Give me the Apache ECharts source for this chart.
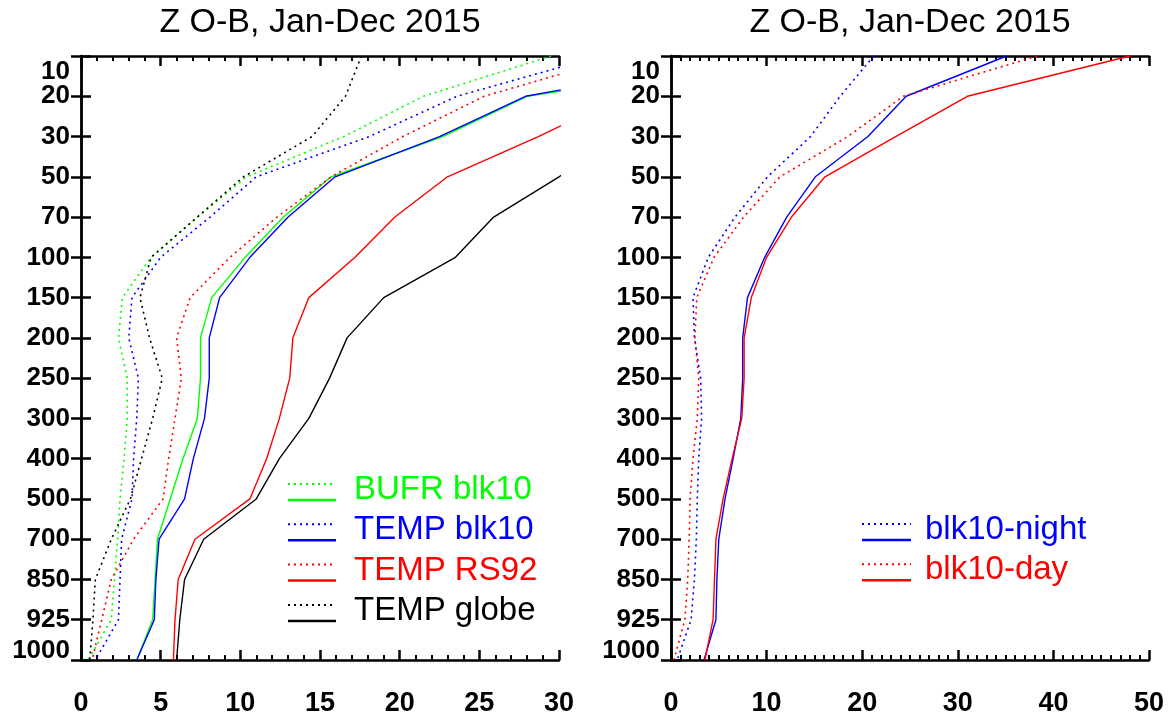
<!DOCTYPE html>
<html>
<head>
<meta charset="utf-8">
<script src="https://cdn.jsdelivr.net/npm/echarts@6/dist/echarts.min.js"></script>
<style>
  html, body { margin: 0; padding: 0; background: #fff; }
  #main { width: 1170px; height: 717px; }
</style>
</head>
<body>
<div id="main"></div>
<script>
// pressure levels (hPa), top to bottom
const levels = ['10', '20', '30', '50', '70', '100', '150', '200', '250', '300', '400', '500', '700', '850', '925', '1000'];

// left panel
const bufrDotted = [29.5, 21.5, 16.5, 10.4, 7.3, 4.4, 2.6, 2.35, 2.9, 2.9, 2.7, 2.45, 2.3, 2.1, 1.9, 0.45];
const bufrSolid = [44, 28.0, 22.7, 15.7, 12.7, 10.3, 8.2, 7.5, 7.5, 7.3, 6.4, 5.6, 4.8, 4.65, 4.5, 3.5];
const tempDotted = [32.6, 23.6, 18.1, 11.0, 8.1, 5.0, 3.2, 3.0, 3.6, 3.5, 3.3, 3.2, 2.55, 2.45, 2.35, 0.9];
const tempSolid = [42, 27.9, 22.5, 15.95, 13.0, 10.6, 8.7, 8.05, 8.05, 7.75, 7.05, 6.5, 4.9, 4.7, 4.6, 3.5];
const rs92Dotted = [34, 25.3, 20.2, 15.7, 12.3, 9.35, 6.85, 6.0, 6.3, 5.9, 5.5, 5.15, 3.3, 1.9, 1.3, 0.7];
const rs92Solid = [40, 34, 28.7, 23.0, 19.7, 17.2, 14.3, 13.3, 13.1, 12.45, 11.65, 10.6, 7.15, 6.1, 5.9, 5.8];
const globeDotted = [17.6, 16.6, 14.5, 10.2, 7.3, 4.4, 3.7, 4.3, 5.1, 4.5, 3.8, 3.1, 1.9, 0.9, 0.75, 0.55];
const globeSolid = [45, 40, 34, 30.0, 25.9, 23.5, 19.0, 16.7, 15.6, 14.3, 12.45, 11.0, 7.7, 6.5, 6.2, 6.0];

// right panel
const nightDotted = [21.2, 17.7, 14.6, 10.1, 6.7, 3.9, 2.3, 2.45, 3.1, 3.2, 2.9, 2.75, 2.65, 2.45, 2.1, 0.65];
const nightSolid = [35.1, 24.6, 20.6, 15.1, 12.1, 9.8, 8.0, 7.5, 7.5, 7.3, 6.5, 5.65, 5.0, 4.8, 4.7, 3.45];
const dayDotted = [38.3, 24.3, 18.5, 11.4, 7.6, 4.5, 2.7, 2.5, 2.9, 2.75, 2.3, 2.0, 1.9, 1.75, 1.45, 0.3];
const daySolid = [48.0, 31.0, 23.5, 16.1, 12.6, 10.0, 8.4, 7.65, 7.65, 7.4, 6.4, 5.45, 4.7, 4.55, 4.4, 3.55];

const titleText = 'Z O-B, Jan-Dec 2015';
const leftLegend = [
  { name: 'BUFR blk10', color: '#00ff00' },
  { name: 'TEMP blk10', color: '#0000ff' },
  { name: 'TEMP RS92', color: '#ff0000' },
  { name: 'TEMP globe', color: '#000000' }
];
const rightLegend = [
  { name: 'blk10-night', color: '#0000ff' },
  { name: 'blk10-day', color: '#ff0000' }
];

const FONT = '"Liberation Sans", Arial, Helvetica, sans-serif';
const DOT = [2, 4];

let chartDom = document.getElementById('main');
let myChart = echarts.init(chartDom);
let option;

function xAxisCfg(grid, max, interval, minorSplit, pos) {
  return {
    gridIndex: grid,
    type: 'value',
    min: 0,
    max: max,
    interval: interval,
    position: pos,
    axisLine: { show: true, onZero: false, lineStyle: { color: '#000', width: 2.5 } },
    axisTick: { show: true, inside: true, length: 10, lineStyle: { color: '#000', width: 2.5 } },
    minorTick: { show: true, splitNumber: minorSplit, length: 5, lineStyle: { color: '#000', width: 2 } },
    splitLine: { show: false },
    axisLabel: {
      show: pos === 'bottom',
      margin: 30,
      color: '#000',
      fontFamily: FONT,
      fontWeight: 'bold',
      fontSize: 27
    }
  };
}

function yAxisCfg(grid, pos) {
  return {
    gridIndex: grid,
    type: 'category',
    data: levels,
    inverse: true,
    boundaryGap: false,
    position: pos,
    axisLine: { show: true, lineStyle: { color: '#000', width: 2.5 } },
    axisTick: { show: true, inside: true, length: 10, interval: 0, lineStyle: { color: '#000', width: 2.5 } },
    splitLine: { show: false },
    axisLabel: {
      show: pos === 'left',
      interval: 0,
      margin: 11,
      color: '#000',
      fontFamily: FONT,
      fontWeight: 'bold',
      fontSize: 26,
      formatter: function (v) {
        if (v === '10') return '{top|' + v + '}';
        if (v === '1000') return '{bot|' + v + '}';
        return v;
      },
      rich: {
        top: { fontFamily: FONT, fontWeight: 'bold', fontSize: 26, color: '#000', padding: [32, 0, 0, 0] },
        bot: { fontFamily: FONT, fontWeight: 'bold', fontSize: 26, color: '#000', padding: [0, 0, 18, 0] }
      }
    }
  };
}

function lineSeries(vals, color, dotted, xi, yi) {
  return {
    type: 'line',
    xAxisIndex: xi,
    yAxisIndex: yi,
    data: vals.map((v, i) => [v, levels[i]]),
    symbol: 'none',
    clip: true,
    lineStyle: { color: color, width: dotted ? 1.6 : 1.4, type: dotted ? DOT : 'solid' },
    z: 3
  };
}

function legendGraphics(items, x1, x2, tx, y0) {
  let g = [];
  items.forEach((it, i) => {
    const y = y0 + i * 40.3;
    g.push({ type: 'line', shape: { x1: x1, y1: y - 6, x2: x2, y2: y - 6 }, style: { stroke: it.color, lineWidth: 2, lineDash: DOT } });
    g.push({ type: 'line', shape: { x1: x1, y1: y + 10, x2: x2, y2: y + 10 }, style: { stroke: it.color, lineWidth: 2.5 } });
    g.push({
      type: 'text', x: tx, y: y,
      style: { text: it.name, fill: it.color, font: '33px ' + FONT, textAlign: 'left', textVerticalAlign: 'middle' }
    });
  });
  return g;
}

option = {
  animation: false,
  backgroundColor: '#fff',
  grid: [
    { left: 81, top: 56, width: 478, height: 606 },
    { left: 671, top: 56, width: 478, height: 606 }
  ],
  xAxis: [
    xAxisCfg(0, 30, 5, 5, 'bottom'),
    xAxisCfg(0, 30, 5, 5, 'top'),
    xAxisCfg(1, 50, 10, 10, 'bottom'),
    xAxisCfg(1, 50, 10, 10, 'top')
  ],
  yAxis: [
    yAxisCfg(0, 'left'),
    yAxisCfg(0, 'right'),
    yAxisCfg(1, 'left'),
    yAxisCfg(1, 'right')
  ],
  graphic: [
    { type: 'text', x: 320, y: 23, style: { text: titleText, fill: '#000', font: '34px ' + FONT, textAlign: 'center', textVerticalAlign: 'middle' } },
    { type: 'text', x: 910, y: 23, style: { text: titleText, fill: '#000', font: '34px ' + FONT, textAlign: 'center', textVerticalAlign: 'middle' } }
  ]
    .concat(legendGraphics(leftLegend, 288, 336, 354, 490))
    .concat(legendGraphics(rightLegend, 862, 911, 925, 530)),
  series: [
    lineSeries(bufrDotted, '#00ff00', true, 0, 0),
    lineSeries(bufrSolid, '#00ff00', false, 0, 0),
    lineSeries(tempDotted, '#0000ff', true, 0, 0),
    lineSeries(tempSolid, '#0000ff', false, 0, 0),
    lineSeries(rs92Dotted, '#ff0000', true, 0, 0),
    lineSeries(rs92Solid, '#ff0000', false, 0, 0),
    lineSeries(globeDotted, '#000000', true, 0, 0),
    lineSeries(globeSolid, '#000000', false, 0, 0),
    lineSeries(nightDotted, '#0000ff', true, 2, 2),
    lineSeries(nightSolid, '#0000ff', false, 2, 2),
    lineSeries(dayDotted, '#ff0000', true, 2, 2),
    lineSeries(daySolid, '#ff0000', false, 2, 2)
  ]
};

option && myChart.setOption(option);
</script>
</body>
</html>
